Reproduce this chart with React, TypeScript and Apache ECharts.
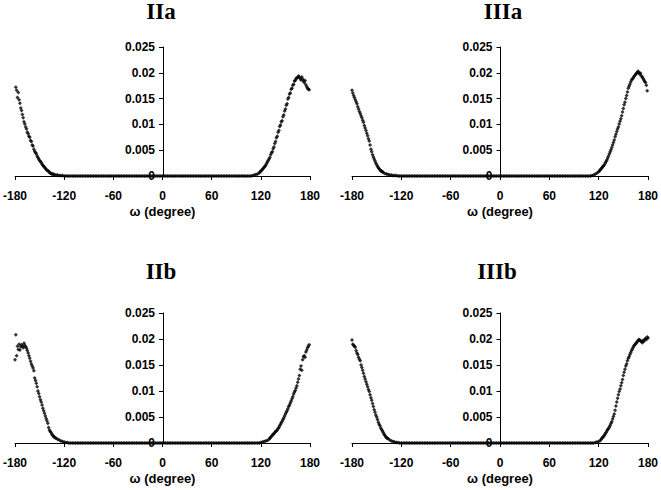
import React, { useEffect, useRef } from "react";
import * as echarts from "echarts";

const panelTitles = ["IIa", "IIIa", "IIb", "IIIb"];
const xTicks = [-180, -120, -60, 0, 60, 120, 180];
const yTicks = [0, 0.005, 0.01, 0.015, 0.02, 0.025];
const xAxisName = "ω (degree)";

// shared near-zero region (probability ~ 0)
const flatOmega = [
  -130, -128, -126, -124, -122, -120, -118, -116, -114, -112, -110, -108, -106, -104, -102, -100,
  -98, -96, -94, -92, -90, -88, -86, -84, -82, -80, -78, -76, -74, -72, -70, -68, -66, -64, -62,
  -60, -58, -56, -54, -52, -50, -48, -46, -44, -42, -40, -38, -36, -34, -32, -30, -28, -26, -24,
  -22, -20, -18, -16, -14, -12, -10, -8, -6, -4, -2, 0, 2, 4, 6, 8, 10, 12, 14, 16, 18, 20, 22,
  24, 26, 28, 30, 32, 34, 36, 38, 40, 42, 44, 46, 48, 50, 52, 54, 56, 58, 60, 62, 64, 66, 68, 70,
  72, 74, 76, 78, 80, 82, 84, 86, 88, 90, 92, 94, 96, 98, 100, 102, 104, 106, 108, 110, 112, 114,
  116, 118, 120, 122, 124, 126, 128, 130,
];
const flatRanges = [
  [-120, 108],
  [-124, 110],
  [-114, 118],
  [-122, 114],
];

const IIaLeft = [
  [-179, 0.0172], [-178, 0.0166], [-177, 0.0152], [-176, 0.0162], [-175, 0.0148], [-174, 0.0141],
  [-173, 0.0132], [-172, 0.0127], [-171, 0.0119], [-170, 0.0113], [-169, 0.0105], [-168, 0.0101],
  [-167, 0.0095], [-166, 0.0091], [-165, 0.0085], [-164, 0.0082], [-163, 0.0077], [-162, 0.0075],
  [-161, 0.0069], [-160, 0.0067], [-159, 0.006], [-158, 0.0058], [-157, 0.0052], [-156, 0.0048],
  [-155, 0.0045], [-154, 0.0043], [-153, 0.0039], [-152, 0.0036], [-151, 0.0033], [-150, 0.0030],
  [-149, 0.0028], [-148, 0.0026], [-147, 0.0023], [-146, 0.0021], [-145, 0.0019], [-144, 0.0017],
  [-143, 0.0015], [-142, 0.0013], [-141, 0.0011], [-140, 0.001], [-139, 0.0009], [-138, 0.0007],
  [-137, 0.0006], [-136, 0.0005], [-135, 0.0004], [-134, 0.0004], [-133, 0.0003], [-132, 0.0003],
  [-130, 0.0002], [-128, 0.0002], [-126, 0.0001], [-124, 0.0001], [-122, 0.0001],
];
const IIaRight = [
  [110, 0.0001], [112, 0.0002], [114, 0.0003], [116, 0.0004], [118, 0.0006], [119, 0.0008],
  [120, 0.0009], [121, 0.0011], [122, 0.0013], [123, 0.0015], [124, 0.0017], [125, 0.0019],
  [126, 0.0021], [127, 0.0024], [128, 0.0027], [129, 0.003], [130, 0.0033], [131, 0.0036],
  [132, 0.0041], [133, 0.0045], [134, 0.0047], [135, 0.0053], [136, 0.0056], [137, 0.0063],
  [138, 0.0067], [139, 0.0074], [140, 0.0077], [141, 0.0085], [142, 0.0088], [143, 0.0096],
  [144, 0.0099], [145, 0.0105], [146, 0.0107], [147, 0.0115], [148, 0.0118], [149, 0.0126],
  [150, 0.013], [151, 0.0137], [152, 0.014], [153, 0.0149], [154, 0.0152], [155, 0.0159],
  [156, 0.0161], [157, 0.0168], [158, 0.017], [159, 0.0176], [160, 0.0178], [161, 0.0184],
  [162, 0.0185], [163, 0.0189], [164, 0.019], [165, 0.0191], [166, 0.0194], [167, 0.0192],
  [168, 0.0189], [169, 0.0186], [170, 0.0192], [171, 0.0188], [172, 0.0184], [173, 0.0181],
  [174, 0.0185], [175, 0.0177], [176, 0.0173], [177, 0.017], [178, 0.0168], [179, 0.0167],
];

const IIIaLeft = [
  [-180, 0.0166], [-179, 0.0161], [-178, 0.0156], [-177, 0.0152], [-176, 0.0148], [-175, 0.0144],
  [-174, 0.014], [-173, 0.0134], [-172, 0.013], [-171, 0.0125], [-170, 0.0121], [-169, 0.0117],
  [-168, 0.0113], [-167, 0.0108], [-166, 0.0104], [-165, 0.0098], [-164, 0.0093], [-163, 0.0088],
  [-162, 0.0083], [-161, 0.0078], [-160, 0.0072], [-159, 0.0068], [-158, 0.006], [-157, 0.0052],
  [-156, 0.0047], [-155, 0.0041], [-154, 0.0037], [-153, 0.0033], [-152, 0.0029], [-151, 0.0025],
  [-150, 0.0022], [-149, 0.0019], [-148, 0.0016], [-147, 0.0014], [-146, 0.0012], [-145, 0.001],
  [-144, 0.0009], [-143, 0.0008], [-142, 0.0007], [-140, 0.0005], [-138, 0.0004], [-136, 0.0003],
  [-134, 0.0002], [-132, 0.0002], [-130, 0.0001], [-128, 0.0001], [-126, 0.0001],
];
const IIIaRight = [
  [112, 0.0001], [114, 0.0002], [116, 0.0004], [118, 0.0006], [120, 0.0008], [121, 0.001],
  [122, 0.0012], [123, 0.0014], [124, 0.0016], [125, 0.0018], [126, 0.002], [127, 0.0022],
  [128, 0.0025], [129, 0.0028], [130, 0.0031], [131, 0.0035], [132, 0.0039], [133, 0.0043],
  [134, 0.0047], [135, 0.0051], [136, 0.0055], [137, 0.006], [138, 0.0065], [139, 0.007],
  [140, 0.0076], [141, 0.0081], [142, 0.0086], [143, 0.0091], [144, 0.0095], [145, 0.0101],
  [146, 0.0106], [147, 0.0111], [148, 0.0117], [149, 0.0124], [150, 0.0131], [151, 0.0138],
  [152, 0.0143], [153, 0.015], [154, 0.0156], [155, 0.0163], [156, 0.017], [157, 0.0174],
  [158, 0.0178], [159, 0.0182], [160, 0.0186], [161, 0.0188], [162, 0.019], [163, 0.0193],
  [164, 0.0195], [165, 0.0197], [166, 0.0199], [167, 0.0201], [168, 0.0203], [169, 0.02],
  [170, 0.0197], [171, 0.0199], [172, 0.0194], [173, 0.0192], [174, 0.0189], [175, 0.0186],
  [176, 0.0183], [177, 0.0181], [178, 0.0176], [179, 0.0165],
];

const IIbLeft = [
  [-180, 0.016], [-179, 0.0208], [-178, 0.0168], [-177, 0.0186], [-176, 0.018], [-175, 0.019],
  [-174, 0.0179], [-173, 0.0185], [-172, 0.0189], [-171, 0.0186], [-170, 0.0183], [-169, 0.0192],
  [-168, 0.0188], [-167, 0.0185], [-166, 0.0182], [-165, 0.0178], [-164, 0.0173], [-163, 0.0168],
  [-162, 0.0163], [-161, 0.0157], [-160, 0.0152], [-159, 0.0148], [-158, 0.0144], [-157, 0.0139],
  [-156, 0.0125], [-155, 0.012], [-154, 0.0115], [-153, 0.0108], [-152, 0.01], [-151, 0.0095],
  [-150, 0.0089], [-149, 0.0083], [-148, 0.0079], [-147, 0.0073], [-146, 0.0067], [-145, 0.0062],
  [-144, 0.0057], [-143, 0.0052], [-142, 0.0047], [-141, 0.0043], [-140, 0.0038], [-139, 0.003],
  [-138, 0.0025], [-137, 0.0022], [-136, 0.002], [-135, 0.0017], [-134, 0.0015], [-133, 0.0013],
  [-132, 0.0011], [-131, 0.001], [-130, 0.0009], [-128, 0.0007], [-126, 0.0006], [-124, 0.0004],
  [-122, 0.0003], [-120, 0.0002], [-118, 0.0001], [-116, 0.0001],
];
const IIbRight = [
  [120, 0.0001], [122, 0.0002], [124, 0.0003], [126, 0.0004], [128, 0.0005], [130, 0.0007],
  [131, 0.0009], [132, 0.0011], [133, 0.0013], [134, 0.0015], [135, 0.0017], [136, 0.0018],
  [137, 0.002], [138, 0.0022], [139, 0.0023], [140, 0.0025], [141, 0.0028], [142, 0.003],
  [143, 0.0033], [144, 0.0036], [145, 0.0039], [146, 0.0042], [147, 0.0045], [148, 0.0048],
  [149, 0.0052], [150, 0.0056], [151, 0.0059], [152, 0.0062], [153, 0.0066], [154, 0.007],
  [155, 0.0073], [156, 0.0077], [157, 0.0081], [158, 0.0085], [159, 0.0089], [160, 0.0094],
  [161, 0.0098], [162, 0.0101], [163, 0.0106], [164, 0.011], [165, 0.0117], [166, 0.0123],
  [167, 0.013], [168, 0.0142], [169, 0.0148], [170, 0.014], [171, 0.016], [172, 0.0166],
  [173, 0.0168], [174, 0.0165], [175, 0.0175], [176, 0.0179], [177, 0.0183], [178, 0.0186],
  [179, 0.0189],
];

const IIIbLeft = [
  [-180, 0.0198], [-179, 0.019], [-178, 0.0188], [-177, 0.0186], [-176, 0.0184], [-175, 0.0178],
  [-174, 0.0173], [-173, 0.017], [-172, 0.0165], [-171, 0.0161], [-170, 0.0158], [-169, 0.015],
  [-168, 0.0145], [-167, 0.014], [-166, 0.0134], [-165, 0.0128], [-164, 0.0123], [-163, 0.0118],
  [-162, 0.0113], [-161, 0.0108], [-160, 0.0103], [-159, 0.0099], [-158, 0.0093], [-157, 0.0087],
  [-156, 0.0082], [-155, 0.0076], [-154, 0.007], [-153, 0.0064], [-152, 0.0059], [-151, 0.0054],
  [-150, 0.005], [-149, 0.0045], [-148, 0.004], [-147, 0.0036], [-146, 0.0033], [-145, 0.0029],
  [-144, 0.0026], [-143, 0.0023], [-142, 0.002], [-141, 0.0017], [-140, 0.0015], [-139, 0.0012],
  [-138, 0.001], [-137, 0.0009], [-136, 0.0008], [-134, 0.0006], [-132, 0.0004], [-130, 0.0003],
  [-128, 0.0002], [-126, 0.0001], [-124, 0.0001],
];
const IIIbRight = [
  [116, 0.0001], [118, 0.0002], [120, 0.0003], [122, 0.0005], [123, 0.0007], [124, 0.0009],
  [125, 0.0011], [126, 0.0013], [127, 0.0015], [128, 0.0018], [129, 0.002], [130, 0.0023],
  [131, 0.0026], [132, 0.0028], [133, 0.0031], [134, 0.0034], [135, 0.0038], [136, 0.0041],
  [137, 0.0046], [138, 0.0051], [139, 0.0056], [140, 0.0063], [141, 0.0071], [142, 0.0079],
  [143, 0.0086], [144, 0.0093], [145, 0.0099], [146, 0.0104], [147, 0.011], [148, 0.0116],
  [149, 0.0122], [150, 0.013], [151, 0.0136], [152, 0.0142], [153, 0.0148], [154, 0.0152],
  [155, 0.0158], [156, 0.0163], [157, 0.0166], [158, 0.017], [159, 0.0174], [160, 0.0178],
  [161, 0.0181], [162, 0.0184], [163, 0.0187], [164, 0.0189], [165, 0.0191], [166, 0.0193],
  [167, 0.0195], [168, 0.0197], [169, 0.0199], [170, 0.0198], [171, 0.0196], [172, 0.0195],
  [173, 0.0193], [174, 0.0197], [175, 0.0195], [176, 0.0199], [177, 0.0201], [178, 0.0199],
  [179, 0.0204], [180, 0.0202],
];

const panelTails = [
  [IIaLeft, IIaRight],
  [IIIaLeft, IIIaRight],
  [IIbLeft, IIbRight],
  [IIIbLeft, IIIbRight],
];

const gridBoxes = [
  { left: 14, top: 47, width: 296, height: 129 },
  { left: 352, top: 47, width: 297, height: 129 },
  { left: 14, top: 313, width: 296, height: 130 },
  { left: 352, top: 313, width: 297, height: 130 },
];
const titlePos = [
  [161, 11],
  [503, 11],
  [161, 271],
  [497, 271],
];

const SANS = "'Liberation Sans', Arial, Helvetica, sans-serif";
const SERIF = "'Liberation Serif', 'Times New Roman', serif";

export default function App() {
  const ref = useRef<HTMLDivElement>(null);
  useEffect(() => {
    if (!ref.current) return;
    const chart = echarts.init(ref.current, null, { renderer: "svg" });
    const labelStyle = { color: "#000", fontFamily: SANS, fontWeight: "bold", fontSize: 12 };
    const xAxes = gridBoxes.map((_, i) => ({
      type: "value",
      gridIndex: i,
      min: xTicks[0],
      max: xTicks[xTicks.length - 1],
      interval: 60,
      name: xAxisName,
      nameLocation: "middle",
      nameGap: 29,
      nameTextStyle: { color: "#000", fontFamily: SANS, fontWeight: "bold", fontSize: 13 },
      axisLine: { show: true, onZero: false, lineStyle: { color: "#000", width: 1 } },
      axisTick: { show: true, length: 4, lineStyle: { color: "#000" } },
      axisLabel: { ...labelStyle, margin: 14 },
      splitLine: { show: false },
    }));
    // y axis sits at omega = 0, i.e. half the grid width to the right of the grid's left edge
    const yAxes = gridBoxes.map((g, i) => ({
      type: "value",
      gridIndex: i,
      position: "left",
      offset: -g.width / 2,
      min: yTicks[0],
      max: yTicks[yTicks.length - 1],
      interval: 0.005,
      axisLine: { show: true, onZero: false, lineStyle: { color: "#000", width: 1 } },
      axisTick: { show: true, length: 4, lineStyle: { color: "#000" } },
      axisLabel: { ...labelStyle, margin: 8 },
      splitLine: { show: false },
    }));
    const series = panelTails.map(([left, right], i) => {
      const [lo, hi] = flatRanges[i];
      const flat = flatOmega.filter((w) => w >= lo && w <= hi).map((w) => [w, 0]);
      return {
        type: "scatter",
        xAxisIndex: i,
        yAxisIndex: i,
        symbol: "diamond",
        symbolSize: 4,
        itemStyle: { color: "#000" },
        data: [...left, ...flat, ...right],
        silent: true,
      };
    });
    chart.setOption({
      animation: false,
      backgroundColor: "#fff",
      grid: gridBoxes.map((g) => ({ ...g, containLabel: false })),
      xAxis: xAxes,
      yAxis: yAxes,
      series,
      graphic: panelTitles.map((t, i) => ({
        type: "text",
        x: titlePos[i][0],
        y: titlePos[i][1],
        style: {
          text: t,
          font: `bold 23px ${SERIF}`,
          fill: "#000",
          align: "center",
          verticalAlign: "middle",
          textAlign: "center",
          textVerticalAlign: "middle",
        },
      })),
    });
    return () => chart.dispose();
  }, []);
  return (
    <div
      ref={ref}
      style={{ position: "fixed", left: 0, top: 0, width: 661, height: 490, background: "#fff" }}
    />
  );
}
